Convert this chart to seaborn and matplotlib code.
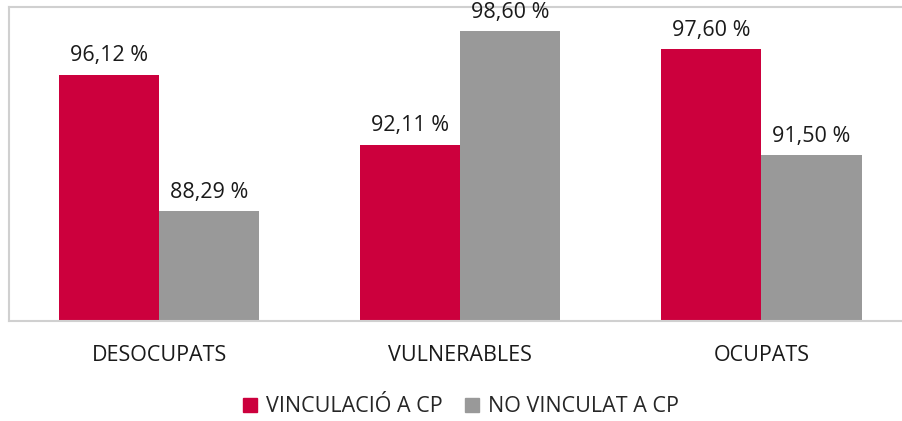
import matplotlib
matplotlib.use("Agg")
import matplotlib.pyplot as plt
import seaborn as sns
import pandas as pd
from matplotlib.patches import Patch

# data
categories = ["DESOCUPATS", "VULNERABLES", "OCUPATS"]
vinculacio = [96.12, 92.11, 97.60]
no_vinculat = [88.29, 98.60, 91.50]
series_names = ["VINCULACIÓ A CP", "NO VINCULAT A CP"]
colors = ["#CC003D", "#999999"]

df = pd.DataFrame({
    "categoria": categories * 2,
    "valor": vinculacio + no_vinculat,
    "serie": [series_names[0]] * 3 + [series_names[1]] * 3,
})

sns.set_style("white")
plt.rcParams["font.family"] = ["Open Sans", "DejaVu Sans"]

fig = plt.figure(figsize=(9.02, 4.21), dpi=100)
ax = fig.add_axes([8.5 / 902, 100 / 421, 903.5 / 902, 314 / 421])

sns.barplot(data=df, x="categoria", y="valor", hue="serie", palette=colors,
            width=0.665, saturation=1, linewidth=0, ax=ax, legend=False)

ax.set_ylim(82, 100)
ax.set_xlim(-0.5, 2.5)
ax.set_yticks([])
ax.set_xlabel("")
ax.set_ylabel("")

# category separator ticks
ax.set_xticks([0, 1, 2])
ax.set_xticklabels(categories, fontsize=15.5, color="#1a1a1a")
ax.tick_params(axis="x", which="major", length=0, pad=17)
ax.set_xticks([-0.5, 0.5, 1.5, 2.5], minor=True)
ax.tick_params(axis="x", which="minor", length=10, width=1.5, color="#C8C8C8")

for side in ["left", "top", "bottom"]:
    ax.spines[side].set_color("#D0D0D0")
    ax.spines[side].set_linewidth(1.5)
ax.spines["right"].set_visible(False)

for cont in ax.containers:
    labels = [f"{v:.2f} %".replace(".", ",") for v in cont.datavalues]
    ax.bar_label(cont, labels=labels, padding=6, fontsize=15.5, color="#1a1a1a")

handles = [Patch(color=c, label=n) for c, n in zip(colors, series_names)]
fig.legend(handles=handles, loc="center", bbox_to_anchor=(461 / 902, 1 - 407 / 421),
           ncol=2, frameon=False, fontsize=15.5, handlelength=0.65, handleheight=0.65,
           handletextpad=0.45, columnspacing=1.0)

fig.savefig("out.png", dpi=100)
